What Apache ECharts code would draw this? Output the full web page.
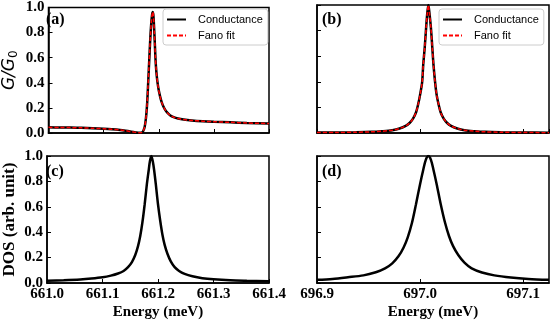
<!DOCTYPE html>
<html>
<head>
<meta charset="utf-8">
<script src="https://cdn.jsdelivr.net/npm/echarts/dist/echarts.min.js"></script>
<style>
html, body { margin: 0; padding: 0; background: #fff; }
#main { width: 550px; height: 323px; }
</style>
</head>
<body>
<div id="main"></div>
<script>
// panel (a): conductance near 661.19 meV (Fano shape)
var energyA = [661.000, 661.020, 661.040, 661.060, 661.080, 661.100, 661.115, 661.130, 661.140, 661.150, 661.158, 661.164, 661.168, 661.171, 661.173, 661.1745, 661.176, 661.1775, 661.179, 661.1805, 661.182, 661.1835, 661.185, 661.1865, 661.188, 661.189, 661.190, 661.191, 661.192, 661.193, 661.194, 661.195, 661.1965, 661.198, 661.200, 661.2025, 661.205, 661.208, 661.212, 661.216, 661.221, 661.227, 661.235, 661.245, 661.260, 661.280, 661.300, 661.330, 661.360, 661.400];
var conductanceA = [0.045, 0.044, 0.043, 0.041, 0.038, 0.034, 0.030, 0.024, 0.018, 0.011, 0.005, 0.001, 0.002, 0.010, 0.028, 0.050, 0.090, 0.150, 0.240, 0.370, 0.510, 0.650, 0.780, 0.880, 0.945, 0.965, 0.950, 0.890, 0.800, 0.700, 0.600, 0.525, 0.450, 0.395, 0.340, 0.290, 0.250, 0.215, 0.182, 0.160, 0.140, 0.126, 0.115, 0.107, 0.100, 0.094, 0.090, 0.085, 0.080, 0.075];
var fanoFitA = [0.045, 0.044, 0.043, 0.041, 0.038, 0.034, 0.030, 0.024, 0.018, 0.011, 0.005, 0.001, 0.002, 0.010, 0.028, 0.050, 0.090, 0.150, 0.240, 0.370, 0.510, 0.650, 0.780, 0.880, 0.945, 0.965, 0.950, 0.890, 0.800, 0.700, 0.600, 0.525, 0.450, 0.395, 0.340, 0.290, 0.250, 0.215, 0.182, 0.160, 0.140, 0.126, 0.115, 0.107, 0.100, 0.094, 0.090, 0.085, 0.080, 0.075];

// panel (b): conductance near 697.01 meV
var energyB = [696.900, 696.918, 696.938, 696.953, 696.963, 696.973, 696.980, 696.986, 696.990, 696.993, 696.996, 696.998, 697.000, 697.002, 697.003, 697.0045, 697.0058, 697.007, 697.008, 697.009, 697.0105, 697.0118, 697.013, 697.0145, 697.016, 697.018, 697.020, 697.023, 697.026, 697.030, 697.036, 697.043, 697.053, 697.063, 697.078, 697.098, 697.125];
var conductanceB = [0.003, 0.004, 0.006, 0.009, 0.014, 0.022, 0.035, 0.055, 0.080, 0.110, 0.160, 0.220, 0.300, 0.400, 0.530, 0.670, 0.820, 0.940, 1.000, 0.940, 0.820, 0.670, 0.530, 0.400, 0.300, 0.220, 0.160, 0.110, 0.080, 0.055, 0.035, 0.022, 0.014, 0.009, 0.006, 0.004, 0.002];
var fanoFitB = [0.003, 0.004, 0.006, 0.009, 0.014, 0.022, 0.035, 0.055, 0.080, 0.110, 0.160, 0.220, 0.300, 0.400, 0.530, 0.670, 0.820, 0.940, 1.000, 0.940, 0.820, 0.670, 0.530, 0.400, 0.300, 0.220, 0.160, 0.110, 0.080, 0.055, 0.035, 0.022, 0.014, 0.009, 0.006, 0.004, 0.002];

// panel (c): DOS
var energyC = [661.000, 661.030, 661.060, 661.080, 661.100, 661.115, 661.128, 661.138, 661.146, 661.153, 661.159, 661.164, 661.168, 661.172, 661.176, 661.180, 661.183, 661.1855, 661.188, 661.1905, 661.193, 661.196, 661.200, 661.204, 661.208, 661.212, 661.217, 661.223, 661.230, 661.238, 661.248, 661.262, 661.280, 661.300, 661.330, 661.360, 661.400];
var dosC = [0.018, 0.022, 0.028, 0.035, 0.045, 0.058, 0.075, 0.095, 0.125, 0.165, 0.220, 0.290, 0.370, 0.480, 0.620, 0.780, 0.880, 0.960, 1.000, 0.960, 0.890, 0.780, 0.620, 0.490, 0.380, 0.300, 0.230, 0.170, 0.125, 0.095, 0.072, 0.053, 0.038, 0.029, 0.021, 0.017, 0.013];

// panel (d): DOS
var energyD = [696.900, 696.915, 696.930, 696.945, 696.957, 696.966, 696.973, 696.979, 696.984, 696.988, 696.992, 696.996, 697.000, 697.003, 697.0055, 697.008, 697.0105, 697.013, 697.016, 697.020, 697.024, 697.028, 697.032, 697.037, 697.043, 697.050, 697.060, 697.072, 697.088, 697.105, 697.125];
var dosD = [0.025, 0.032, 0.045, 0.060, 0.085, 0.115, 0.155, 0.210, 0.280, 0.360, 0.470, 0.620, 0.780, 0.890, 0.970, 1.000, 0.970, 0.890, 0.780, 0.620, 0.480, 0.370, 0.290, 0.220, 0.160, 0.115, 0.083, 0.060, 0.043, 0.032, 0.025];

var xRangeLeft = [661.0, 661.4];
var xRangeRight = [696.9, 697.125];
var panelLabels = ['(a)', '(b)', '(c)', '(d)'];
var seriesNames = ['Conductance', 'Fano fit'];

function zip(xs, ys) {
    return xs.map(function (x, i) { return [x, ys[i]]; });
}

var serif = '"Liberation Serif", "Times New Roman", serif';
var sans = '"Liberation Sans", Arial, sans-serif';

var grids = [
    { left: 41, top: 5, width: 228, height: 128 },
    { left: 317, top: 5, width: 232, height: 128 },
    { left: 41, top: 156, width: 228, height: 127 },
    { left: 317, top: 156, width: 232, height: 127 }
];
grids.forEach(function (g) {
    g.show = true;
    g.borderColor = '#000';
    g.borderWidth = 1.5;
    g.backgroundColor = 'transparent';
});

var xAxes = grids.map(function (g, i) {
    var r = (i % 2 === 0) ? xRangeLeft : xRangeRight;
    return {
        type: 'value', gridIndex: i, min: r[0], max: r[1], interval: 0.1,
        axisLine: { show: true, lineStyle: { color: '#000', width: 1.5 } },
        axisTick: { show: true, inside: true, length: 4, lineStyle: { color: '#000', width: 1 } },
        splitLine: { show: false },
        axisLabel: {
            show: i >= 2, color: '#000', fontFamily: serif, fontWeight: 'bold', fontSize: 15, margin: 4,
            showMaxLabel: i !== 3,
            formatter: function (v) { return v.toFixed(1); }
        },
        name: i >= 2 ? 'Energy (meV)' : '',
        nameLocation: 'middle', nameGap: 22,
        nameTextStyle: { color: '#000', fontFamily: serif, fontWeight: 'bold', fontSize: 15 }
    };
});

var yAxes = grids.map(function (g, i) {
    var ax = {
        type: 'value', gridIndex: i, min: 0, max: 1, interval: 0.2,
        axisLine: { show: true, lineStyle: { color: '#000', width: 1.5 } },
        axisTick: { show: true, inside: true, length: 4, lineStyle: { color: '#000', width: 1 } },
        splitLine: { show: false },
        axisLabel: {
            show: i % 2 === 0, color: '#000', fontFamily: serif, fontWeight: 'bold', fontSize: 15, margin: 4,
            formatter: function (v) { return v.toFixed(1); }
        }
    };
    if (i === 0) {
        ax.name = '{it|G/G}{sub|0}';
        ax.nameLocation = 'middle';
        ax.nameGap = 29;
        ax.nameTextStyle = {
            color: '#000',
            rich: {
                it: { fontFamily: '"DejaVu Sans", sans-serif', fontStyle: 'italic', fontSize: 17, color: '#000' },
                sub: { fontFamily: '"DejaVu Sans", sans-serif', fontSize: 12, color: '#000', padding: [8, 0, 0, 0] }
            }
        };
    }
    if (i === 2) {
        ax.name = 'DOS (arb. unit)';
        ax.nameLocation = 'middle';
        ax.nameGap = 29;
        ax.nameTextStyle = { color: '#000', fontFamily: serif, fontWeight: 'bold', fontSize: 17 };
    }
    return ax;
});

function lineSeries(name, idx, data, color, width, dash, z) {
    return {
        name: name, type: 'line', xAxisIndex: idx, yAxisIndex: idx,
        data: data, showSymbol: false, symbol: 'none',
        smooth: 0.3,
        itemStyle: { color: color },
        lineStyle: { color: color, width: width, type: dash || 'solid' },
        z: z
    };
}

var series = [
    lineSeries(seriesNames[0], 0, zip(energyA, conductanceA), '#000', 2.5, null, 2),
    lineSeries(seriesNames[1], 0, zip(energyA, fanoFitA), '#ff0000', 1.5, [4, 2], 3),
    lineSeries(seriesNames[0], 1, zip(energyB, conductanceB), '#000', 2.5, null, 2),
    lineSeries(seriesNames[1], 1, zip(energyB, fanoFitB), '#ff0000', 1.5, [4, 2], 3),
    lineSeries('DOS c', 2, zip(energyC, dosC), '#000', 2.5, null, 2),
    lineSeries('DOS d', 3, zip(energyD, dosD), '#000', 2.5, null, 2)
];

var legendPos = [163, 439];
var legends = legendPos.map(function (x) {
    return {
        data: seriesNames, orient: 'vertical', left: x, top: 9,
        padding: [5, 5, 4, 3], itemGap: 5, itemWidth: 19, itemHeight: 10,
        backgroundColor: '#fff', borderColor: '#ccc', borderWidth: 1, borderRadius: 3,
        selectedMode: false,
        itemStyle: { opacity: 0 },
        textStyle: { color: '#000', fontFamily: sans, fontSize: 11, padding: [0, 0, 0, 7] }
    };
});

var labelPos = [[46, 12], [322, 12], [46, 164], [322, 164]];
var titles = panelLabels.map(function (t, i) {
    return {
        text: t, left: labelPos[i][0], top: labelPos[i][1], padding: 0,
        textStyle: { color: '#000', fontFamily: serif, fontWeight: 'bold', fontSize: 16 }
    };
});

var myChart = echarts.init(document.getElementById('main'));
myChart.setOption({
    animation: false,
    title: titles,
    legend: legends,
    grid: grids,
    xAxis: xAxes,
    yAxis: yAxes,
    series: series
});
</script>
</body>
</html>
